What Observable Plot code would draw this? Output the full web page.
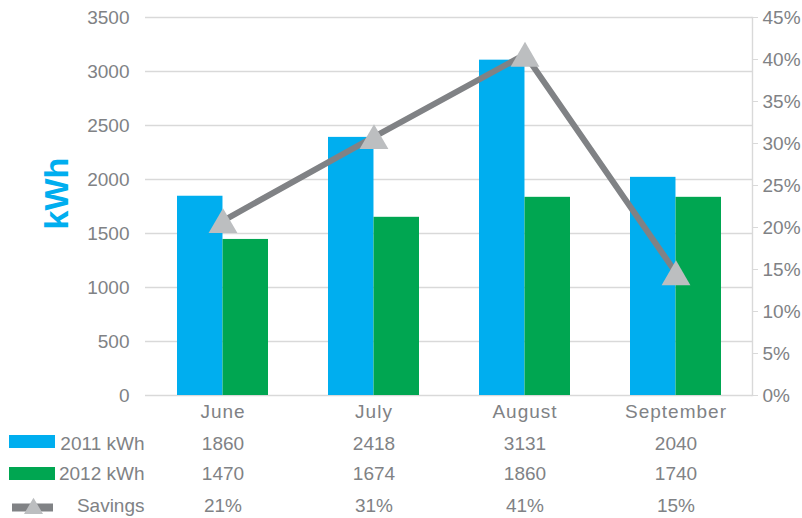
<!DOCTYPE html>
<html>
<head>
<meta charset="utf-8">
<script src="https://cdn.jsdelivr.net/npm/d3@7"></script>
<script src="https://cdn.jsdelivr.net/npm/@observablehq/plot@0.6"></script>
<style>
  html, body { margin: 0; padding: 0; background: #ffffff; overflow: hidden; }
  #chart svg { display: block; }
  .month-row text { letter-spacing: 1px; }
</style>
</head>
<body>
<div id="chart"></div>
<script>
// ---- data ----
const months = ["June", "July", "August", "September"];
const kwh2011 = [1845, 2390, 3105, 2020];      // bar heights as drawn
const kwh2012 = [1445, 1650, 1835, 1835];      // bar heights as drawn
const savingsPct = [20.8, 30.8, 40.6, 14.6];   // line values (%)
const label2011 = ["1860", "2418", "3131", "2040"];
const label2012 = ["1470", "1674", "1860", "1740"];
const labelSavings = ["21%", "31%", "41%", "15%"];
const kwhTicks = [0, 500, 1000, 1500, 2000, 2500, 3000, 3500];
const pctTicks = [0, 5, 10, 15, 20, 25, 30, 35, 40, 45];
const seriesNames = ["2011 kWh", "2012 kWh", "Savings"];

// ---- layout / style ----
const W = 802, H = 518;
const mL = 145, mR = 50, mT = 17, mB = 123;
const K = 3500 / 45; // percent -> kWh scale mapping for the secondary axis
const step = (W - mL - mR) / 4;
const bw = step * 0.6;
const BLUE = "#00AEEF", GREEN = "#00A651", LINE = "#808285", MARK = "#BCBEC0";
const TXT = "#808285", GRID = "#D9D9D9";
const FONT = "'Liberation Sans', Arial, Helvetica, sans-serif";

const rows = months.map((m, i) => ({
  month: m, a: kwh2011[i], b: kwh2012[i], s: savingsPct[i] * K,
  la: label2011[i], lb: label2012[i], ls: labelSavings[i]
}));

function rowText(textFn, dy, extra = {}) {
  return Plot.text(rows, {x: "month", text: textFn, frameAnchor: "bottom", lineAnchor: "middle", dy, fill: TXT, fontSize: 19, ...extra});
}
function legendText(t, dy) {
  return Plot.text([t], {text: d => d, frameAnchor: "bottom-left", lineAnchor: "middle", textAnchor: "end", dx: -1, dy, fill: TXT, fontSize: 19});
}

const chart = Plot.plot({
  width: W, height: H,
  marginLeft: mL, marginRight: mR, marginTop: mT, marginBottom: mB,
  style: {fontFamily: FONT, fontSize: "19px", background: "#ffffff", color: TXT},
  x: {type: "band", domain: months, paddingInner: 0.4, paddingOuter: 0.2, axis: null},
  y: {domain: [0, 3500], axis: null},
  marks: [
    Plot.gridY(kwhTicks, {stroke: GRID, strokeOpacity: 1, strokeWidth: 1.4}),
    Plot.axisY(kwhTicks, {anchor: "left", tickSize: 0, tickPadding: 16, fill: TXT, fontSize: 19, label: null,
      tickFormat: v => String(v)}),
    Plot.axisY(pctTicks.map(p => p * K), {anchor: "right", tickSize: 5, tickPadding: 5, stroke: GRID, strokeOpacity: 1,
      fill: TXT, fontSize: 19, label: null, tickFormat: v => Math.round(v / K) + "%"}),
    Plot.frame({anchor: "right", stroke: GRID, strokeOpacity: 1, strokeWidth: 1.4}),
    Plot.barY(rows, {x: "month", y: "a", fill: BLUE, insetLeft: 0, insetRight: bw / 2}),
    Plot.barY(rows, {x: "month", y: "b", fill: GREEN, insetLeft: bw / 2, insetRight: 0}),
    Plot.lineY(rows, {x: "month", y: "s", stroke: LINE, strokeWidth: 6, strokeLinejoin: "miter"}),
    Plot.dot(rows, {x: "month", y: "s", symbol: "triangle", r: 10.7, fill: MARK, stroke: "none", dy: 4}),
    Plot.text(["kWh"], {text: d => d, frameAnchor: "left", rotate: -90, dx: -88, dy: -13,
      fill: BLUE, fontSize: 34, fontWeight: "bold", textAnchor: "middle"}),
    rowText("month", 16.7, {className: "month-row"}),
    rowText("la", 48),
    rowText("lb", 78.3),
    rowText("ls", 110.5),
    legendText(seriesNames[0], 48),
    legendText(seriesNames[1], 78.3),
    legendText(seriesNames[2], 110.5)
  ]
});

document.getElementById("chart").appendChild(chart);

// ---- legend swatches ----
const svg = d3.select(chart);
const g = svg.append("g").attr("class", "legend-swatches");
g.append("rect").attr("x", 9).attr("y", 435).attr("width", 46).attr("height", 13).attr("fill", BLUE);
g.append("rect").attr("x", 9).attr("y", 467).attr("width", 46).attr("height", 13).attr("fill", GREEN);
g.append("line").attr("x1", 12).attr("x2", 53).attr("y1", 507.5).attr("y2", 507.5)
  .attr("stroke", LINE).attr("stroke-width", 8);
g.append("path").attr("d", "M33.5,497.7L43,514L24,514Z").attr("fill", MARK);
</script>
</body>
</html>
